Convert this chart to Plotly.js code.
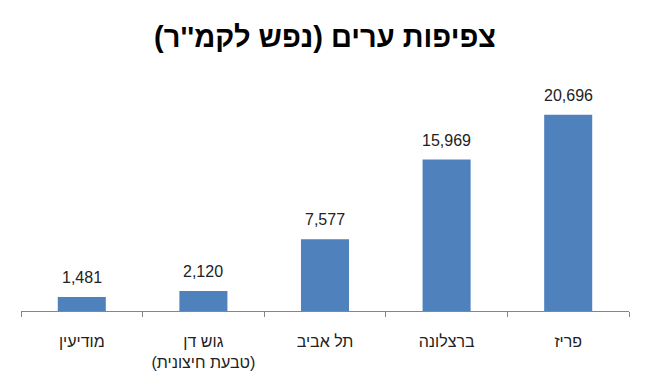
<!DOCTYPE html>
<html>
<head>
<meta charset="utf-8">
<script src="https://cdn.plot.ly/plotly-3.0.1.min.js"></script>
<style>html,body{margin:0;padding:0;background:#fff;}#chart{width:650px;height:390px;}</style>
</head>
<body>
<div id="chart"></div>
<script>
var categories = ["מודיעין", "גוש דן<br>(טבעת חיצונית)", "תל אביב", "ברצלונה", "פריז"];
var density = [1481, 2120, 7577, 15969, 20696];
var valueLabels = ["1,481", "2,120", "7,577", "15,969", "20,696"];
var chartTitle = "צפיפות ערים (נפש לקמ''ר)";

var trace = {
  type: "bar",
  x: categories,
  y: density,
  marker: {color: "#4F81BD"},
  hoverinfo: "none"
};

var annotations = categories.map(function (c, i) {
  return {
    x: c, y: density[i], xref: "x", yref: "y",
    text: valueLabels[i], showarrow: false,
    yanchor: "bottom", yshift: 9,
    font: {family: "Liberation Sans, Arial, sans-serif", size: 16, color: "#222"}
  };
});

var layout = {
  width: 650, height: 390,
  margin: {l: 21, r: 21, t: 74, b: 79},
  paper_bgcolor: "#fff", plot_bgcolor: "#fff",
  showlegend: false,
  bargap: 0.605,
  title: {
    text: "<b>" + chartTitle + "</b>",
    font: {family: "Liberation Sans, Arial, sans-serif", size: 29, color: "#000"},
    x: 0.5, xanchor: "center", xref: "paper",
    y: 0.905, yanchor: "middle", yref: "container"
  },
  xaxis: {
    type: "category",
    showline: true, linecolor: "#868686", linewidth: 1,
    ticks: "outside", tickson: "boundaries", ticklen: 5, tickcolor: "#868686",
    showgrid: false, zeroline: false,
    ticklabelstandoff: 16,
    tickfont: {family: "Liberation Sans, Arial, sans-serif", size: 16, color: "#222"},
    fixedrange: true
  },
  yaxis: {
    range: [0, 25000],
    visible: false, showgrid: false, zeroline: false,
    fixedrange: true
  },
  annotations: annotations
};

Plotly.newPlot("chart", [trace], layout, {displayModeBar: false, staticPlot: true});
</script>
</body>
</html>
